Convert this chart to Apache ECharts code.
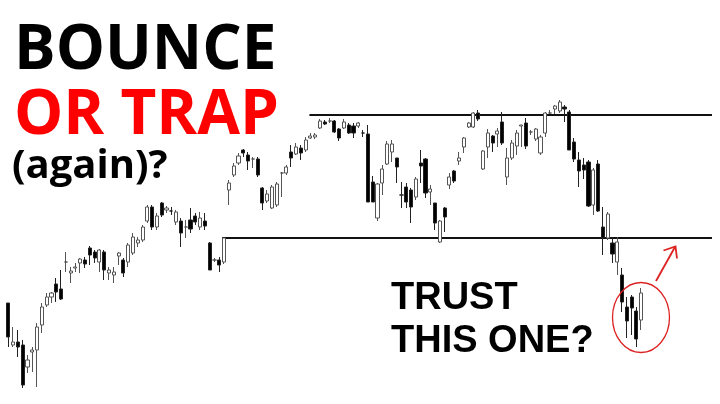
<!DOCTYPE html>
<html>
<head>
<meta charset="utf-8">
<script src="https://cdn.jsdelivr.net/npm/echarts@6/dist/echarts.min.js"></script>
<style>
html,body{margin:0;padding:0;background:#fff;}
#chart{width:720px;height:404px;}
</style>
</head>
<body>
<div id="chart"></div>
<script>
// price units (arbitrary, chart has no axis labels)
var opens = [101,59,62,59,37,52,54,79,99,107,120,115,142,131,136,141,144,156,152,142,152,131,129,148,144,142,151,161,164,183,197,177,201,194,193,182,183,177,184,188,177,183,161,144,144,142,214,229,241,254,249,245,245,216,203,196,199,231,231,252,250,256,254,266,267,276,282,283,283,275,276,279,278,278,271,270,222,186,221,240,252,246,209,217,214,207,241,245,212,201,162,196,219,233,243,257,277,277,291,235,257,268,270,282,227,246,258,278,281,272,265,251,271,291,295,293,297,292,262,244,239,242,199,240,177,166,161,142,129,97,107,93,84];
var closes = [67,62,57,19,44,54,77,97,107,111,112,105,142,133,137,145,140,149,146,154,134,134,132,151,131,159,167,164,177,197,177,188,189,196,193,192,171,177,175,182,186,178,134,144,139,166,221,238,248,251,243,245,229,201,210,217,220,231,237,246,257,251,264,268,269,283,280,283,272,266,282,271,271,281,271,202,202,220,235,260,260,237,209,202,197,225,238,211,215,181,183,187,227,223,246,266,281,291,285,253,271,261,273,261,246,261,271,279,258,272,275,267,291,291,298,302,295,254,245,233,234,198,234,193,166,190,150,162,102,83,96,65,111];
var lows = [57,57,47,16,31,32,17,71,97,101,102,104,132,121,132,131,136,139,141,132,124,124,121,139,127,137,149,157,162,181,174,174,187,191,189,179,157,166,171,179,174,174,134,142,132,140,199,227,239,247,234,236,227,194,201,195,197,207,229,237,249,244,252,265,265,275,279,281,271,263,275,270,266,276,267,202,202,183,209,239,242,221,196,196,181,204,221,206,199,174,161,172,215,221,239,251,276,276,283,234,246,252,257,259,219,244,249,257,255,269,263,249,267,290,290,291,282,254,242,217,225,197,189,192,149,164,141,129,92,66,69,57,74];
var highs = [101,77,74,64,49,57,81,101,111,112,126,134,152,137,141,146,147,158,154,155,154,137,137,152,146,161,171,167,179,199,199,191,202,198,197,194,186,184,196,191,192,191,162,146,147,166,224,241,251,255,252,247,247,217,214,219,222,232,239,259,261,259,267,271,271,285,284,286,284,276,285,281,281,282,274,279,228,221,239,263,264,246,222,221,216,227,254,246,219,201,184,197,231,234,252,267,282,292,294,254,275,269,276,292,256,264,274,279,286,274,276,269,292,294,299,304,299,294,266,252,246,244,236,244,197,192,167,167,136,107,109,97,116];
// horizontal levels: [price, starting bar index]
var levelPrices = [289, 166];
var levelStarts = [62.8, 44.6];
var totalSlots = 148;

var categories = [];
var candleData = [];
for (var i = 0; i < totalSlots; i++) {
  categories.push(String(i));
  if (i < opens.length) candleData.push([opens[i], closes[i], lows[i], highs[i]]);
  else candleData.push(['-', '-', '-', '-']);
}

var levelSeries = levelPrices.map(function (p, k) {
  return {
    type: 'line', xAxisIndex: 1, yAxisIndex: 0, silent: true, symbol: 'none',
    lineStyle: { color: '#111', width: 2 },
    data: [[levelStarts[k], p], [totalSlots - 1.25, p]],
    z: 1, animation: false
  };
});

var chart = echarts.init(document.getElementById('chart'), null, { renderer: 'canvas' });
var option = {
  backgroundColor: '#fff',
  animation: false,
  grid: { left: 5.9, top: 0, width: totalSlots * 4.795, height: 404, containLabel: false },
  xAxis: [
    { type: 'category', data: categories, show: false, boundaryGap: true },
    { type: 'value', min: -0.5, max: totalSlots - 0.5, show: false }
  ],
  yAxis: [{ type: 'value', min: 0, max: 404, show: false }],
  series: [{
    type: 'candlestick',
    data: candleData,
    barWidth: 3.6,
    z: 2,
    itemStyle: {
      color: '#ffffff', color0: '#000000',
      borderColor: '#555555', borderColor0: '#222222',
      borderWidth: 1
    }
  }].concat(levelSeries),
  graphic: [
    { type: 'text', x: 14, y: 20.8, z: 10, style: { text: 'BOUNCE', font: 'bold 62px "Open Sans"', fill: '#000', textVerticalAlign: 'top' } },
    { type: 'text', x: 14, y: 85.3, z: 10, style: { text: 'OR TRAP', font: 'bold 62px "Open Sans"', fill: '#ff0000', textVerticalAlign: 'top' } },
    { type: 'text', x: 12, y: 146.5, z: 10, style: { text: '(again)?', font: 'bold 40px "Open Sans"', fill: '#000', textVerticalAlign: 'top' } },
    { type: 'text', x: 391, y: 279.3, z: 10, style: { text: 'TRUST', font: 'bold 38px "Liberation Sans"', fill: '#000', textVerticalAlign: 'top' } },
    { type: 'text', x: 391, y: 322.8, z: 10, style: { text: 'THIS ONE?', font: 'bold 38px "Liberation Sans"', fill: '#000', textVerticalAlign: 'top' } },
    { type: 'circle', x: 641, y: 317.5, scaleX: 0.814, z: 10, shape: { cx: 0, cy: 0, r: 35 }, style: { fill: 'none', stroke: '#dd2222', lineWidth: 1.6, strokeNoScale: true } },
    { type: 'line', z: 10, shape: { x1: 656, y1: 281, x2: 675, y2: 247 }, style: { stroke: '#dd2222', lineWidth: 1.8 } },
    { type: 'polyline', z: 10, shape: { points: [[663.5, 250.5], [675.5, 246.5], [677, 258.5]] }, style: { stroke: '#dd2222', lineWidth: 1.8, fill: 'none' } }
  ]
};
chart.setOption(option);
</script>
</body>
</html>
